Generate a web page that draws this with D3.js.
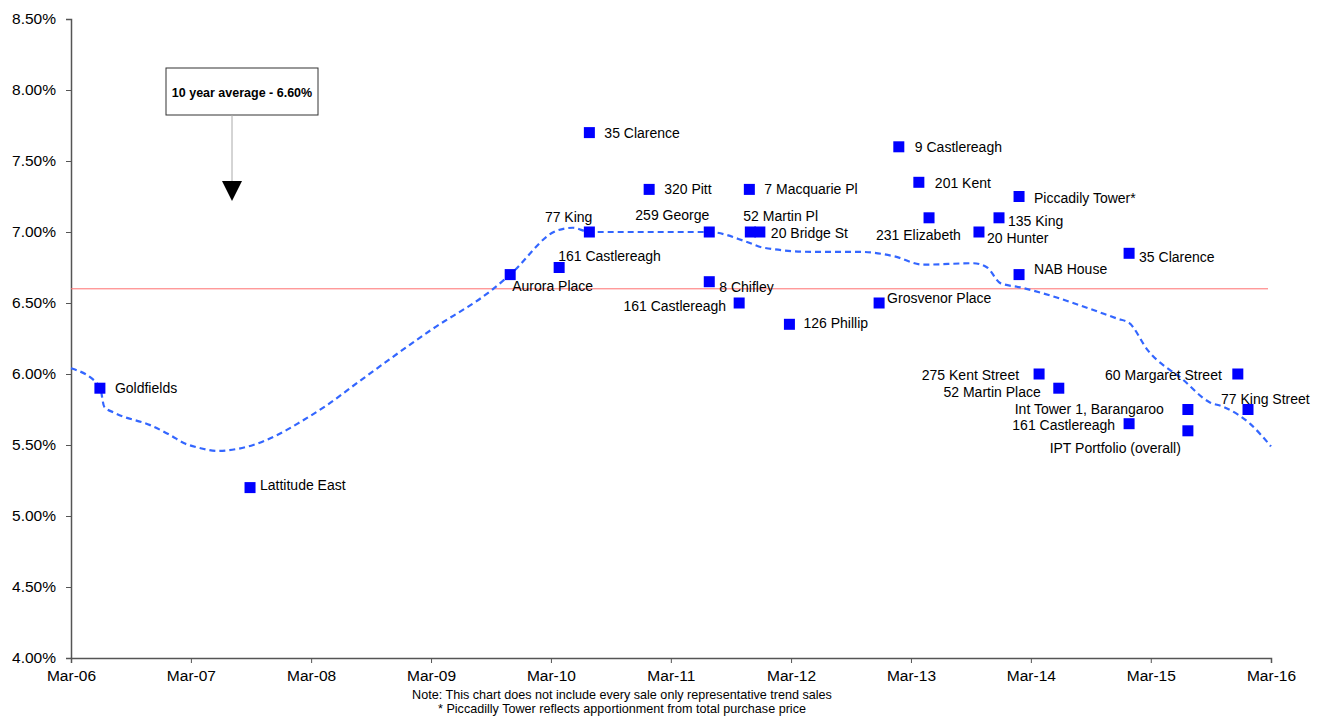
<!DOCTYPE html>
<html>
<head>
<meta charset="utf-8">
<script src="https://cdn.jsdelivr.net/npm/d3@7"></script>
<style>
  html, body { margin: 0; padding: 0; background: #fff; }
  svg { display: block; font-family: "Liberation Sans", Arial, sans-serif; }
</style>
</head>
<body>
<svg id="chart" width="1320" height="717"></svg>
<script>
// Sydney CBD office sales: sale date, initial yield (%)
const saleNames = [
  "Goldfields", "Lattitude East", "Aurora Place", "161 Castlereagh", "77 King",
  "35 Clarence", "320 Pitt", "259 George", "8 Chifley", "161 Castlereagh",
  "7 Macquarie Pl", "52 Martin Pl", "20 Bridge St", "126 Phillip", "Grosvenor Place",
  "9 Castlereagh", "201 Kent", "231 Elizabeth", "20 Hunter", "135 King",
  "Piccadily Tower*", "NAB House", "275 Kent Street", "52 Martin Place", "35 Clarence",
  "161 Castlereagh", "Int Tower 1, Barangaroo", "IPT Portfolio (overall)", "60 Margaret Street", "77 King Street"
];
const saleDates = [
  "2006-05-28", "2007-08-28", "2009-10-28", "2010-03-26", "2010-06-26",
  "2010-06-26", "2010-12-25", "2011-06-26", "2011-06-26", "2011-09-25",
  "2011-10-26", "2011-10-29", "2011-11-27", "2012-02-25", "2012-11-24",
  "2013-01-23", "2013-03-25", "2013-04-25", "2013-09-24", "2013-11-24",
  "2014-01-24", "2014-01-24", "2014-03-26", "2014-05-25", "2014-12-25",
  "2014-12-25", "2015-06-22", "2015-06-22", "2015-11-21", "2015-12-22"
];
const saleYields = [
  5.90, 5.20, 6.70, 6.75, 7.00,
  7.70, 7.30, 7.00, 6.65, 6.50,
  7.30, 7.00, 7.00, 6.35, 6.50,
  7.60, 7.35, 7.10, 7.00, 7.10,
  7.25, 6.70, 6.00, 5.90, 6.85,
  5.65, 5.75, 5.60, 6.00, 5.75
];

// Trend line through the sales
const trendDates = [
  "2006-03-01", "2006-05-28", "2006-06-10", "2006-07-13", "2006-10-28", "2006-12-28",
  "2007-02-07", "2007-03-28", "2007-05-19", "2007-07-19", "2007-09-07", "2007-11-19",
  "2008-01-28", "2008-04-19", "2008-07-19", "2009-03-01", "2009-09-01", "2009-10-28",
  "2010-03-19", "2010-05-07", "2010-06-26", "2011-06-26", "2011-10-19", "2011-12-07",
  "2012-05-07", "2012-09-28", "2013-01-07", "2013-04-07", "2013-09-07", "2013-10-19",
  "2013-11-28", "2014-01-28", "2014-11-19", "2014-12-25", "2015-02-19", "2015-06-07",
  "2015-08-28", "2015-10-07", "2015-12-28", "2016-03-01"
];
const trendYields = [
  6.04, 5.91, 5.77, 5.725, 5.64, 5.57,
  5.514, 5.479, 5.458, 5.472, 5.50, 5.57,
  5.662, 5.782, 5.937, 6.31, 6.59, 6.70,
  7.01, 7.03, 7.00, 7.00, 6.93, 6.89,
  6.86, 6.86, 6.83, 6.77, 6.78, 6.75,
  6.64, 6.61, 6.39, 6.36, 6.17, 5.96,
  5.80, 5.77, 5.65, 5.49
];

const tenYearAverage = 6.60;
const averageNote = "10 year average - 6.60%";
const yTicks = [4.0, 4.5, 5.0, 5.5, 6.0, 6.5, 7.0, 7.5, 8.0, 8.5];
const xTickYears = [2006, 2007, 2008, 2009, 2010, 2011, 2012, 2013, 2014, 2015, 2016];
const footnotes = [
  "Note: This chart does not include every sale only representative trend sales",
  "* Piccadilly Tower reflects apportionment from total purchase price"
];

// Label placement for each sale: [dx, dy, anchor]
const labelLayout = [
  [15, 5, "start"], [10, 2, "start"], [2, 16, "start"], [-1, -7, "start"], [3, -10, "end"],
  [15, 5, "start"], [15, 5, "start"], [0, -12, "end"], [10, 10, "start"], [-13, 8, "end"],
  [15, 5, "start"], [-7, -11, "start"], [11, 6, "start"], [14, 4, "start"], [8, 0, "start"],
  [16, 5, "start"], [16, 6, "start"], [-53, 22, "start"], [8, 11, "start"], [9, 8, "start"],
  [15, 6, "start"], [15, -1, "start"], [-20, 6, "end"], [-18, 9, "end"], [10, 9, "start"],
  [-14, 6, "end"], [-24, 4, "end"], [-7, 22, "end"], [-16, 6, "end"], [-27, -6, "start"]
];

const parseDay = d3.timeParse("%Y-%m-%d");

const svg = d3.select("#chart");
const x = d3.scaleTime()
  .domain([new Date(2006, 2, 1), new Date(2016, 2, 1)])
  .range([71, 1271]);
const y = d3.scaleLinear().domain([4.0, 8.5]).range([658, 19]);

const axisColor = "#555";

// Y axis
const yAxis = svg.append("g")
  .attr("transform", "translate(71,0)")
  .call(d3.axisLeft(y).tickValues(yTicks).tickSize(5).tickPadding(10)
    .tickFormat(d => d.toFixed(2) + "%"));
yAxis.select(".domain").attr("stroke", axisColor).attr("stroke-width", 1.5);
yAxis.selectAll(".tick line").attr("stroke", axisColor);
yAxis.selectAll(".tick text")
  .attr("font-family", "Liberation Sans, Arial, sans-serif")
  .attr("font-size", 15.5).attr("fill", "#000");

// X axis, one tick each March
const xAxis = svg.append("g")
  .attr("transform", "translate(0,658)")
  .call(d3.axisBottom(x)
    .tickValues(xTickYears.map(yr => new Date(yr, 2, 1)))
    .tickSize(5).tickPadding(7)
    .tickFormat(d3.timeFormat("Mar-%y")));
xAxis.select(".domain").attr("stroke", axisColor).attr("stroke-width", 1.5);
xAxis.selectAll(".tick line").attr("stroke", axisColor);
xAxis.selectAll(".tick text")
  .attr("font-family", "Liberation Sans, Arial, sans-serif")
  .attr("font-size", 15.5).attr("fill", "#000");

// 10 year average line
svg.append("line")
  .attr("x1", x.range()[0]).attr("x2", x.range()[1] - 3)
  .attr("y1", y(tenYearAverage)).attr("y2", y(tenYearAverage))
  .attr("stroke", "#ff7070").attr("stroke-width", 1);

// Dashed trend line
const trend = trendDates.map((d, i) => ({ date: parseDay(d), value: trendYields[i] }));
svg.append("path")
  .datum(trend)
  .attr("fill", "none")
  .attr("stroke", "#3366ff")
  .attr("stroke-width", 2.2)
  .attr("stroke-dasharray", "6,4")
  .attr("d", d3.line().x(d => x(d.date)).y(d => y(d.value)).curve(d3.curveMonotoneX));

// Sales markers and labels
const sales = saleNames.map((n, i) => ({
  name: n, date: parseDay(saleDates[i]), value: saleYields[i], layout: labelLayout[i]
}));
const sq = 11;
svg.append("g").selectAll("rect")
  .data(sales).join("rect")
  .attr("x", d => x(d.date) - sq / 2)
  .attr("y", d => y(d.value) - sq / 2)
  .attr("width", sq).attr("height", sq)
  .attr("fill", "#0000ff");

svg.append("g").selectAll("text")
  .data(sales).join("text")
  .attr("x", d => x(d.date) + d.layout[0])
  .attr("y", d => y(d.value) + d.layout[1])
  .attr("text-anchor", d => d.layout[2])
  .attr("font-size", 14)
  .attr("fill", "#000")
  .text(d => d.name);

// Average callout box with arrow
const callout = svg.append("g");
callout.append("rect")
  .attr("x", 166).attr("y", 68).attr("width", 152).attr("height", 47)
  .attr("fill", "#fff").attr("stroke", "#333").attr("stroke-width", 1);
callout.append("text")
  .attr("x", 242).attr("y", 97)
  .attr("text-anchor", "middle")
  .attr("font-size", 12.5).attr("font-weight", "bold")
  .text(averageNote);
callout.append("line")
  .attr("x1", 232).attr("x2", 232).attr("y1", 115).attr("y2", 182)
  .attr("stroke", "#aaa").attr("stroke-width", 1);
callout.append("path")
  .attr("d", "M222,181 L242,181 L232,201 Z")
  .attr("fill", "#000");

// Footnotes
svg.append("g").selectAll("text")
  .data(footnotes).join("text")
  .attr("x", 622)
  .attr("y", (d, i) => 699 + i * 14)
  .attr("text-anchor", "middle")
  .attr("font-size", 12.6)
  .attr("fill", "#000")
  .text(d => d);
</script>
</body>
</html>
